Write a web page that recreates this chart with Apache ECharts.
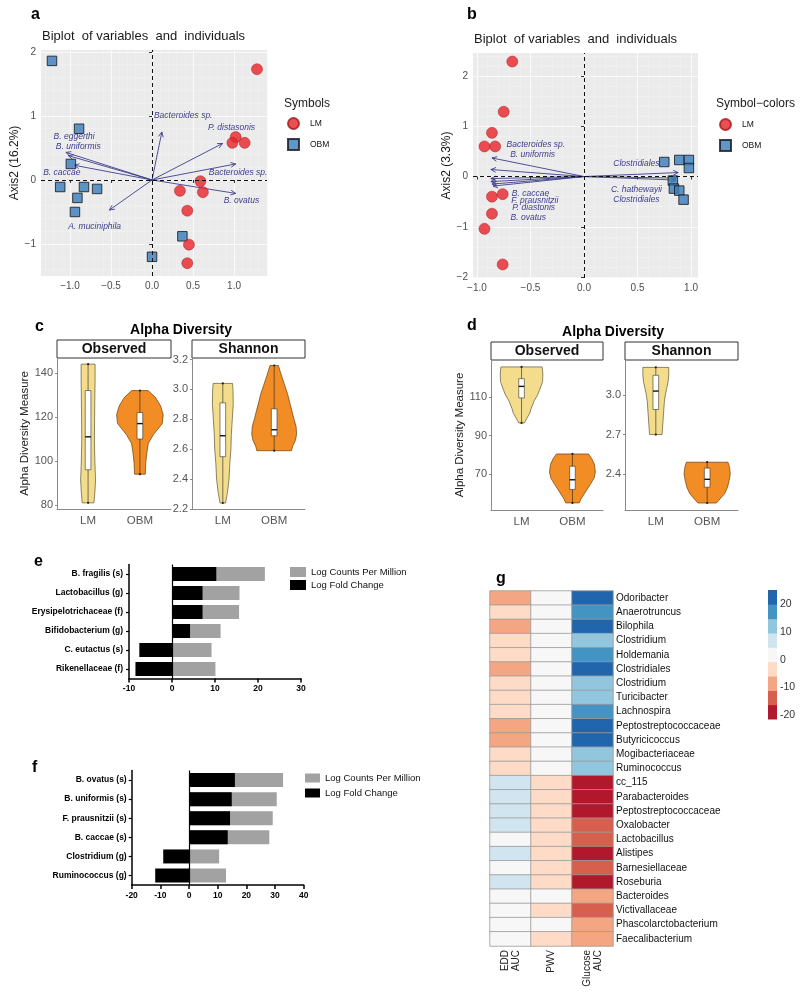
<!DOCTYPE html>
<html>
<head>
<meta charset="utf-8">
<script src="https://cdn.jsdelivr.net/npm/echarts@6/dist/echarts.min.js"></script>
<style>
html, body { margin: 0; padding: 0; background: #fff; }
#fig { width: 800px; height: 1008px; }
</style>
</head>
<body>
<div id="fig"></div>
<script>
// ---------- data ----------
const groups = ['LM', 'OBM'];

// a: PCA biplot, individuals and variable arrows
const aLM = [[1.28, 1.73], [1.02, 0.67], [0.98, 0.58], [1.13, 0.58], [0.59, -0.02], [0.34, -0.17], [0.62, -0.19], [0.43, -0.48], [0.45, -1.01], [0.43, -1.30]];
const aOBM = [[-1.22, 1.86], [-0.89, 0.80], [-0.99, 0.25], [-1.12, -0.11], [-0.83, -0.11], [-0.67, -0.14], [-0.91, -0.28], [-0.94, -0.50], [0.37, -0.88], [0.0, -1.20]];
const aVarNames = ['Bacteroides sp.', 'P. distasonis', 'Bacteroides sp.', 'B. ovatus', 'A. muciniphila', 'B. eggerthi', 'B. uniformis', 'B. caccae'];
const aVarEnds = [[0.12, 0.75], [0.86, 0.57], [1.02, 0.25], [1.02, -0.21], [-0.52, -0.47], [-1.05, 0.43], [-1.02, 0.38], [-0.95, 0.23]];
const aVarLabels = [[0.38, 1.0], [0.97, 0.81], [1.05, 0.11], [1.09, -0.33], [-0.70, -0.73], [-0.95, 0.67], [-0.90, 0.52], [-1.10, 0.11]];

// b
const bLM = [[-0.67, 2.29], [-0.75, 1.29], [-0.86, 0.87], [-0.93, 0.60], [-0.83, 0.60], [-0.76, -0.35], [-0.86, -0.40], [-0.86, -0.74], [-0.93, -1.04], [-0.76, -1.75]];
const bOBM = [[0.75, 0.29], [0.89, 0.33], [0.98, 0.33], [0.98, 0.17], [0.83, -0.08], [0.84, -0.24], [0.89, -0.28], [0.93, -0.46]];
const bVarNames = ['Bacteroides sp.', 'B. uniformis', 'B. caccae', 'F. prausnitzii', 'P. diastonis', 'B. ovatus', 'Clostridiales', 'C. hathewayii', 'Clostridiales'];
const bVarEnds = [[-0.86, 0.37], [-0.87, 0.14], [-0.87, -0.04], [-0.87, -0.10], [-0.86, -0.15], [-0.85, -0.19], [0.88, 0.08], [0.86, -0.03], [0.86, -0.07]];
const bVarLabels = [[-0.45, 0.64], [-0.48, 0.44], [-0.50, -0.34], [-0.46, -0.48], [-0.47, -0.62], [-0.52, -0.82], [0.49, 0.26], [0.49, -0.26], [0.49, -0.46]];

// c, d: violin density profiles [value, relative width] and box stats [min, q1, median, q3, max]
const cObsDensity = [
  [[81, 0.25], [85.5, 0.29], [91.4, 0.32], [100, 0.29], [110, 0.27], [120, 0.28], [130, 0.29], [137, 0.3], [144, 0.3]],
  [[94, 0.23], [99, 0.25], [104, 0.3], [108, 0.36], [112, 0.58], [117, 0.96], [121, 1.0], [125, 0.89], [129, 0.66], [132, 0.35]]
];
const cObsBox = [[81, 96, 111, 132, 144], [94, 110, 117, 122, 132]];
const cShaDensity = [
  [[2.24, 0.12], [2.31, 0.2], [2.4, 0.27], [2.5, 0.3], [2.6, 0.35], [2.7, 0.37], [2.8, 0.41], [2.9, 0.45], [3.0, 0.44], [3.04, 0.42]],
  [[2.59, 0.75], [2.62, 0.8], [2.66, 0.92], [2.7, 0.97], [2.75, 0.95], [2.8, 0.86], [2.86, 0.76], [2.92, 0.66], [2.97, 0.58], [3.03, 0.45], [3.09, 0.32], [3.16, 0.18]]
];
const cShaBox = [[2.24, 2.55, 2.69, 2.91, 3.04], [2.59, 2.69, 2.73, 2.87, 3.16]];
const dObsDensity = [
  [[96.5, 0.12], [98, 0.19], [101.6, 0.36], [104, 0.42], [108, 0.55], [111, 0.7], [114, 0.8], [118, 0.92], [122, 0.93], [125.6, 0.9]],
  [[55, 0.3], [57, 0.37], [61.7, 0.62], [65, 0.8], [68, 0.95], [71, 1.0], [75, 0.96], [78, 0.84], [80.4, 0.7]]
];
const dObsBox = [[96.5, 109.5, 115.5, 119.5, 125.6], [55, 62, 67, 74, 80.4]];
const dShaDensity = [
  [[2.70, 0.27], [2.75, 0.29], [2.85, 0.33], [2.95, 0.37], [3.0, 0.41], [3.05, 0.47], [3.1, 0.53], [3.15, 0.56], [3.21, 0.56]],
  [[2.18, 0.4], [2.21, 0.55], [2.25, 0.75], [2.3, 0.88], [2.35, 0.95], [2.4, 1.0], [2.45, 0.97], [2.49, 0.9]]
];
const dShaBox = [[2.70, 2.89, 3.03, 3.15, 3.21], [2.18, 2.30, 2.36, 2.445, 2.49]];

// e, f: horizontal bars
const eNames = ['B. fragilis (s)', 'Lactobacillus (g)', 'Erysipelotrichaceae (f)', 'Bifidobacterium (g)', 'C. eutactus (s)', 'Rikenellaceae (f)'];
const eCounts = [21.6, 15.7, 15.6, 11.3, 9.2, 10.1];
const eFold = [10.3, 7.1, 7.1, 4.2, -7.6, -8.5];
const fNames = ['B. ovatus (s)', 'B. uniformis (s)', 'F. prausnitzii (s)', 'B. caccae (s)', 'Clostridium (g)', 'Ruminococcus (g)'];
const fCounts = [32.8, 30.6, 29.2, 28.0, 10.5, 12.9];
const fFold = [16.0, 14.9, 14.3, 13.5, -9.0, -11.8];

// g: heatmap
const gCols = ['EDD\nAUC', 'PWV', 'Glucose\nAUC'];
const gRows = ['Odoribacter', 'Anaerotruncus', 'Bilophila', 'Clostridium', 'Holdemania', 'Clostridiales', 'Clostridium', 'Turicibacter', 'Lachnospira', 'Peptostreptococcaceae', 'Butyricicoccus', 'Mogibacteriaceae', 'Ruminococcus', 'cc_115', 'Parabacteroides', 'Peptostreptococcaceae', 'Oxalobacter', 'Lactobacillus', 'Alistipes', 'Barnesiellaceae', 'Roseburia', 'Bacteroides', 'Victivallaceae', 'Phascolarctobacterium', 'Faecalibacterium'];
const gEDD = [-8, -3, -8, -3, -3, -8, -3, -3, -3, -8, -8, -3, -3, 7, 7, 7, 7, 2, 7, 2, 7, 2, 2, 2, 2];
const gPWV = [2, 2, 2, 2, 2, 2, 2, 2, 2, 2, 2, 2, 2, -3, -3, -3, -3, -3, -3, -3, -3, 2, -3, 2, -3];
const gGlucose = [22, 17, 22, 12, 17, 22, 12, 12, 17, 22, 22, 12, 12, -18, -18, -18, -13, -13, -18, -13, -18, -8, -13, -8, -8];
const heatBreaks = [-21.5, -16.3, -11.1, -5.9, -0.7, 4.5, 9.7, 14.9, 20.1, 25.3];
const heatColors = ['#B2182B', '#D6604D', '#F4A582', '#FDDBC7', '#F7F7F7', '#D1E5F0', '#92C5DE', '#4393C3', '#2166AC'];

// ---------- styles ----------
const FONT = 'Liberation Sans, Arial, sans-serif';
const ARROW = '#3d3d8f';
const VIOLIN_FILL = ['#F3DD8C', '#F28C24'];
const VIOLIN_LINE = ['#5d5533', '#6b3d0a'];
const VW = 0.45, BW = 0.055;

const minus = (s) => s.replace('-', '\u2212');

// ---------- builders ----------
function biplotAxes(k, xr, yr, xt, yt, name, gap) {
  const x = {
    gridIndex: k, type: 'value', min: xr[0], max: xr[1],
    axisLine: { show: false },
    axisTick: { show: true, customValues: xt, length: 3, lineStyle: { color: '#333' } },
    axisLabel: { customValues: xt, fontSize: 10, color: '#4d4d4d', fontFamily: FONT, margin: 5, formatter: (v) => minus(v.toFixed(1)) },
    splitLine: { show: true, lineStyle: { color: '#fafafa', width: 1 } },
    minorSplitLine: { show: true, lineStyle: { color: '#f3f3f3', width: 0.5 } }
  };
  const y = {
    gridIndex: k, type: 'value', min: yr[0], max: yr[1],
    axisLine: { show: false },
    axisTick: { show: true, customValues: yt, length: 3, lineStyle: { color: '#333' } },
    axisLabel: { customValues: yt, fontSize: 10, color: '#4d4d4d', fontFamily: FONT, margin: 5, formatter: (v) => minus(String(v)) },
    splitLine: { show: true, lineStyle: { color: '#fafafa', width: 1 } },
    minorSplitLine: { show: true, lineStyle: { color: '#f3f3f3', width: 0.5 } },
    name, nameLocation: 'middle', nameGap: gap, nameRotate: 90,
    nameTextStyle: { fontSize: 12, color: '#1a1a1a', fontFamily: FONT }
  };
  return [x, y];
}

function pointSeries(k, name, data, withZero) {
  const lm = name === 'LM';
  const s = {
    type: 'scatter', name, xAxisIndex: k, yAxisIndex: k, data, silent: true, z: 4,
    symbol: lm ? 'circle' : 'rect', symbolSize: lm ? 11 : 9.5,
    itemStyle: lm ? { color: '#E8232A', borderColor: '#9e1b1b', borderWidth: 0.6 }
                  : { color: '#3A7DBA', borderColor: '#151515', borderWidth: 1 }
  };
  if (withZero) {
    s.markLine = {
      silent: true, symbol: 'none', animation: false, label: { show: false },
      lineStyle: { color: '#111', type: [4, 3], width: 1 },
      data: [{ xAxis: 0 }, { yAxis: 0 }]
    };
  }
  return s;
}

function arrowSeries(k, ends) {
  return {
    type: 'custom', xAxisIndex: k, yAxisIndex: k, data: ends, silent: true, z: 3,
    renderItem: (params, api) => {
      const o = api.coord([0, 0]);
      const e = api.coord([api.value(0), api.value(1)]);
      const ang = Math.atan2(e[1] - o[1], e[0] - o[0]);
      const h = 5.5, w = Math.PI / 7;
      const p1 = [e[0] - h * Math.cos(ang - w), e[1] - h * Math.sin(ang - w)];
      const p2 = [e[0] - h * Math.cos(ang + w), e[1] - h * Math.sin(ang + w)];
      return {
        type: 'group', children: [
          { type: 'line', shape: { x1: o[0], y1: o[1], x2: e[0], y2: e[1] }, style: { stroke: ARROW, lineWidth: 0.9 } },
          { type: 'polyline', shape: { points: [p1, e, p2] }, style: { stroke: ARROW, lineWidth: 0.9, fill: null } }
        ]
      };
    }
  };
}

function arrowLabelSeries(k, at, names) {
  return {
    type: 'custom', xAxisIndex: k, yAxisIndex: k, data: at, silent: true, z: 6,
    renderItem: (params, api) => {
      const p = api.coord([api.value(0), api.value(1)]);
      return {
        type: 'text', x: p[0], y: p[1],
        style: { text: names[params.dataIndex], fontSize: 8.5, fontStyle: 'italic', fontFamily: FONT, fill: ARROW, align: 'center', verticalAlign: 'middle' }
      };
    }
  };
}

function violinAxes(k, yr, yt, digits, name, gap) {
  const x = {
    gridIndex: k, type: 'value', min: 0.4, max: 2.6,
    axisLine: { show: true, onZero: false, lineStyle: { color: '#8a8a8a', width: 1 } },
    axisTick: { show: false }, splitLine: { show: false },
    axisLabel: { customValues: [1, 2], formatter: (v) => groups[v - 1], fontSize: 11.5, color: '#555', fontFamily: FONT, margin: 6 }
  };
  const y = {
    gridIndex: k, type: 'value', min: yr[0], max: yr[1],
    axisLine: { show: true, onZero: false, lineStyle: { color: '#8a8a8a', width: 1 } },
    axisTick: { show: true, customValues: yt, length: 2, lineStyle: { color: '#8a8a8a' } },
    axisLabel: { customValues: yt, fontSize: 11, color: '#555', fontFamily: FONT, margin: 4, formatter: (v) => v.toFixed(digits) },
    splitLine: { show: false }
  };
  if (name) {
    Object.assign(y, { name, nameLocation: 'middle', nameGap: gap, nameRotate: 90, nameTextStyle: { fontSize: 11.5, color: '#222', fontFamily: FONT } });
  }
  return [x, y];
}

function violinSeries(k, dens, box) {
  return {
    type: 'custom', xAxisIndex: k, yAxisIndex: k, data: groups.map((g, i) => [i + 1]), silent: true, clip: false,
    renderItem: (params, api) => {
      const i = params.dataIndex, cx = api.value(0), d = dens[i], b = box[i];
      const pts = d.map(([v, w]) => api.coord([cx + w * VW, v]))
        .concat(d.slice().reverse().map(([v, w]) => api.coord([cx - w * VW, v])));
      const top = api.coord([cx, b[4]]), bot = api.coord([cx, b[0]]);
      const tl = api.coord([cx - BW, b[3]]), br = api.coord([cx + BW, b[1]]);
      const mL = api.coord([cx - BW, b[2]]), mR = api.coord([cx + BW, b[2]]);
      return {
        type: 'group', children: [
          { type: 'polygon', shape: { points: pts }, style: { fill: VIOLIN_FILL[i], stroke: VIOLIN_LINE[i], lineWidth: 0.7 } },
          { type: 'line', shape: { x1: bot[0], y1: bot[1], x2: top[0], y2: top[1] }, style: { stroke: '#222', lineWidth: 0.6 } },
          { type: 'rect', shape: { x: tl[0], y: tl[1], width: br[0] - tl[0], height: br[1] - tl[1] }, style: { fill: '#fff', stroke: '#333', lineWidth: 0.6 } },
          { type: 'line', shape: { x1: mL[0], y1: mL[1], x2: mR[0], y2: mR[1] }, style: { stroke: '#111', lineWidth: 1.4 } },
          { type: 'circle', shape: { cx: top[0], cy: top[1], r: 1.1 }, style: { fill: '#222' } },
          { type: 'circle', shape: { cx: bot[0], cy: bot[1], r: 1.1 }, style: { fill: '#222' } }
        ]
      };
    }
  };
}

function barAxes(k, names, xr, margin) {
  const x = {
    gridIndex: k, type: 'value', min: xr[0], max: xr[1], interval: 10,
    axisLine: { show: true, onZero: false, lineStyle: { color: '#000', width: 1.5 } },
    axisTick: { show: true, length: 4, lineStyle: { color: '#000', width: 1.5 } },
    axisLabel: { fontSize: 8.5, fontWeight: 'bold', color: '#000', fontFamily: FONT, margin: 6 },
    splitLine: { show: false }
  };
  const y = {
    gridIndex: k, type: 'category', data: names, inverse: true,
    axisLine: { show: true, onZero: false, lineStyle: { color: '#000', width: 1.5 } },
    axisTick: { show: true, alignWithLabel: true, length: 3, lineStyle: { color: '#000', width: 1.2 } },
    axisLabel: { fontSize: 8.5, fontWeight: 'bold', color: '#000', fontFamily: FONT, margin, interval: 0 }
  };
  return [x, y];
}

function barSeries(k, counts, fold) {
  return [
    { type: 'bar', name: 'Log Counts Per Million', xAxisIndex: k, yAxisIndex: k, data: counts, barWidth: 14, silent: true, itemStyle: { color: '#A2A2A2' } },
    {
      type: 'bar', name: 'Log Fold Change', xAxisIndex: k, yAxisIndex: k, data: fold, barWidth: 14, barGap: '-100%', silent: true, itemStyle: { color: '#000' },
      markLine: { silent: true, symbol: 'none', animation: false, label: { show: false }, lineStyle: { color: '#000', type: 'solid', width: 1.2 }, data: [{ xAxis: 0 }] }
    }
  ];
}

// ---------- assemble ----------
const xAxes = [], yAxes = [], series = [];
function addAxes(pair) { xAxes.push(pair[0]); yAxes.push(pair[1]); }

addAxes(biplotAxes(0, [-1.354, 1.402], [-1.5, 2.03], [-1, -0.5, 0, 0.5, 1], [-1, 0, 1, 2], 'Axis2 (16.2%)', 19));
addAxes(biplotAxes(1, [-1.037, 1.065], [-2.02, 2.46], [-1, -0.5, 0, 0.5, 1], [-2, -1, 0, 1, 2], 'Axis2 (3.3%)', 15));
addAxes(violinAxes(2, [78.2, 146.8], [80, 100, 120, 140], 0, 'Alpha Diversity Measure', 25));
addAxes(violinAxes(3, [2.2, 3.21], [2.2, 2.4, 2.6, 2.8, 3.0, 3.2], 1));
addAxes(violinAxes(4, [51.3, 129.2], [70, 90, 110], 0, 'Alpha Diversity Measure', 24));
addAxes(violinAxes(5, [2.127, 3.266], [2.4, 2.7, 3.0], 1));
addAxes(barAxes(6, eNames, [-10, 30], 6));
addAxes(barAxes(7, fNames, [-20, 40], 5));

// heatmap axes
xAxes.push({
  gridIndex: 8, type: 'category', data: gCols,
  axisLine: { show: false }, axisTick: { show: false }, splitLine: { show: false },
  axisLabel: { rotate: 90, interval: 0, fontSize: 10, color: '#222', fontFamily: FONT, margin: 4, lineHeight: 11 }
});
yAxes.push({
  gridIndex: 8, type: 'category', data: gRows, inverse: true, position: 'right',
  axisLine: { show: false }, axisTick: { show: false }, splitLine: { show: false },
  axisLabel: { interval: 0, fontSize: 10, color: '#111', fontFamily: FONT, margin: 3 }
});
// colour bar axes
xAxes.push({ gridIndex: 9, type: 'value', min: 0, max: 1, show: false });
yAxes.push({
  gridIndex: 9, type: 'value', min: heatBreaks[0], max: heatBreaks[heatBreaks.length - 1], position: 'right',
  axisLine: { show: false }, axisTick: { show: false }, splitLine: { show: false },
  axisLabel: { customValues: [-20, -10, 0, 10, 20], fontSize: 10.5, color: '#333', fontFamily: FONT, margin: 3 }
});

series.push(
  arrowSeries(0, aVarEnds), pointSeries(0, 'OBM', aOBM, true), pointSeries(0, 'LM', aLM), arrowLabelSeries(0, aVarLabels, aVarNames),
  arrowSeries(1, bVarEnds), pointSeries(1, 'OBM', bOBM, true), pointSeries(1, 'LM', bLM), arrowLabelSeries(1, bVarLabels, bVarNames),
  violinSeries(2, cObsDensity, cObsBox), violinSeries(3, cShaDensity, cShaBox),
  violinSeries(4, dObsDensity, dObsBox), violinSeries(5, dShaDensity, dShaBox),
  ...barSeries(6, eCounts, eFold), ...barSeries(7, fCounts, fFold)
);

const heatData = [];
gRows.forEach((r, i) => {
  [gEDD, gPWV, gGlucose].forEach((col, j) => heatData.push([j, i, col[i]]));
});
const heatIdx = series.length;
series.push({
  type: 'heatmap', xAxisIndex: 8, yAxisIndex: 8, data: heatData, silent: true,
  itemStyle: { borderColor: '#9a9a9a', borderWidth: 0.8 }
});
series.push({
  type: 'custom', xAxisIndex: 9, yAxisIndex: 9, silent: true,
  data: heatColors.map((c, i) => [heatBreaks[i], heatBreaks[i + 1]]),
  renderItem: (params, api) => {
    const a = api.coord([0, api.value(1)]), b = api.coord([1, api.value(0)]);
    return { type: 'rect', shape: { x: a[0], y: a[1], width: b[0] - a[0], height: b[1] - a[1] + 0.5 }, style: { fill: heatColors[params.dataIndex] } };
  }
});

// ---------- decorations ----------
const txt = (x, y, text, size, extra) => ({
  type: 'text', x, y, silent: true,
  style: Object.assign({ text, fontSize: size, fontFamily: FONT, fill: '#000', align: 'left', verticalAlign: 'middle' }, extra || {})
});
const strip = (x, y, w, h, text) => ([
  { type: 'rect', silent: true, shape: { x, y, width: w, height: h }, style: { fill: '#fff', stroke: '#333', lineWidth: 1 } },
  txt(x + w / 2, y + h / 2 + 0.5, text, 14, { fontWeight: 'bold', align: 'center', fill: '#111' })
]);

const graphic = [
  txt(31, 15, 'a', 16, { fontWeight: 'bold' }),
  txt(467, 15, 'b', 16, { fontWeight: 'bold' }),
  txt(35, 327, 'c', 16, { fontWeight: 'bold' }),
  txt(467, 326, 'd', 16, { fontWeight: 'bold' }),
  txt(34, 562, 'e', 16, { fontWeight: 'bold' }),
  txt(32, 768, 'f', 16, { fontWeight: 'bold' }),
  txt(496, 579, 'g', 16, { fontWeight: 'bold' }),
  txt(42, 36, 'Biplot  of variables  and  individuals', 13, { fill: '#1a1a1a' }),
  txt(474, 39, 'Biplot  of variables  and  individuals', 13, { fill: '#1a1a1a' }),
  txt(284, 104, 'Symbols', 12, { fill: '#1a1a1a' }),
  txt(716, 104, 'Symbol\u2212colors', 12, { fill: '#1a1a1a' }),
  txt(181, 330, 'Alpha Diversity', 14, { fontWeight: 'bold', align: 'center' }),
  txt(613, 332, 'Alpha Diversity', 14, { fontWeight: 'bold', align: 'center' }),
  ...strip(57, 340, 114, 18, 'Observed'),
  ...strip(192, 340, 113, 18, 'Shannon'),
  ...strip(491, 342, 112, 18, 'Observed'),
  ...strip(625, 342, 113, 18, 'Shannon')
];

const legendText = (size) => ({ fontSize: size, color: '#111', fontFamily: FONT });
const pointLegend = (left, top) => ({
  left, top, orient: 'vertical', itemWidth: 11, itemHeight: 11, itemGap: 8, selectedMode: false, padding: 0,
  textStyle: Object.assign(legendText(8.5), { padding: [0, 0, 0, 6] }),
  data: [{ name: 'LM', icon: 'circle' }, { name: 'OBM', icon: 'rect' }]
});
const barLegend = (left, top, w, h, gap) => ({
  left, top, orient: 'vertical', itemWidth: w, itemHeight: h, itemGap: gap, selectedMode: false, padding: 0,
  textStyle: legendText(9.5),
  data: [{ name: 'Log Counts Per Million', icon: 'rect' }, { name: 'Log Fold Change', icon: 'rect' }]
});

const option = {
  animation: false,
  backgroundColor: '#fff',
  textStyle: { fontFamily: FONT },
  grid: [
    { left: 41, top: 50, width: 226, height: 226, show: true, backgroundColor: '#EBEBEB', borderWidth: 0 },
    { left: 473, top: 53, width: 225, height: 225, show: true, backgroundColor: '#EBEBEB', borderWidth: 0 },
    { left: 57, top: 358, width: 114, height: 151 },
    { left: 192, top: 358, width: 113, height: 151 },
    { left: 491, top: 360, width: 112, height: 150 },
    { left: 625, top: 360, width: 113, height: 150 },
    { left: 129, top: 564.5, width: 172, height: 114 },
    { left: 131.7, top: 770.5, width: 172, height: 114.6 },
    { left: 490, top: 591, width: 123, height: 355 },
    { left: 768, top: 590, width: 9, height: 129 }
  ].map((g) => Object.assign({ containLabel: false, outerBoundsMode: 'none' }, g)),
  xAxis: xAxes,
  yAxis: yAxes,
  legend: [pointLegend(287, 117), pointLegend(719, 118), barLegend(290, 567, 16, 10, 3), barLegend(305, 773, 15, 9, 5)],
  visualMap: [{
    type: 'piecewise', show: false, seriesIndex: heatIdx, dimension: 2,
    pieces: heatColors.map((c, i) => ({ gte: heatBreaks[i], lt: heatBreaks[i + 1], color: c }))
  }],
  graphic,
  series
};

const chart = echarts.init(document.getElementById('fig'));
chart.setOption(option);
</script>
</body>
</html>
